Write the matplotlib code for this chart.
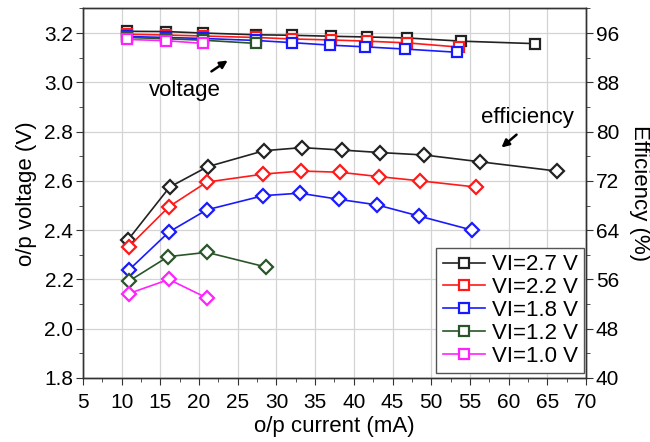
import numpy as np
import matplotlib.pyplot as plt
from matplotlib.ticker import MultipleLocator

plt.rcParams['font.family'] = ['Liberation Sans', 'DejaVu Sans']

# ---- output voltage vs current (square markers) ----
vin_labels = ["VI=2.7 V", "VI=2.2 V", "VI=1.8 V", "VI=1.2 V", "VI=1.0 V"]
colors = ['#222222', '#ff1a1a', '#1a1aff', '#2a552a', '#ff22ff']

v_cur_27 = [10.7, 15.7, 20.5, 27.3, 32.0, 37.0, 41.7, 46.9, 53.9, 63.4]
v_out_27 = [3.207, 3.206, 3.200, 3.193, 3.191, 3.187, 3.184, 3.180, 3.167, 3.157]
v_cur_22 = [10.7, 15.7, 20.5, 27.3, 32.0, 37.0, 41.7, 46.9, 53.6]
v_out_22 = [3.195, 3.192, 3.188, 3.182, 3.176, 3.172, 3.167, 3.160, 3.143]
v_cur_18 = [10.7, 15.7, 20.5, 27.3, 32.0, 36.9, 41.4, 46.6, 53.3]
v_out_18 = [3.186, 3.182, 3.178, 3.170, 3.161, 3.151, 3.144, 3.135, 3.122]
v_cur_12 = [10.7, 15.7, 20.5, 27.3]
v_out_12 = [3.182, 3.177, 3.171, 3.158]
v_cur_10 = [10.7, 15.7, 20.5]
v_out_10 = [3.174, 3.169, 3.158]

# ---- efficiency vs current (diamond markers) ----
e_cur_27 = [10.8, 16.2, 21.1, 28.4, 33.3, 38.5, 43.4, 49.1, 56.3, 66.2]
e_val_27 = [62.4, 71.0, 74.3, 76.9, 77.4, 77.0, 76.6, 76.2, 75.1, 73.6]
e_cur_22 = [10.9, 16.1, 21.0, 28.3, 33.2, 38.2, 43.2, 48.6, 55.8]
e_val_22 = [61.3, 67.8, 71.8, 73.1, 73.6, 73.4, 72.7, 72.0, 71.0]
e_cur_18 = [10.9, 16.1, 21.0, 28.3, 33.0, 38.1, 43.0, 48.4, 55.3]
e_val_18 = [57.5, 63.7, 67.3, 69.6, 70.0, 69.0, 68.1, 66.3, 64.0]
e_cur_12 = [10.9, 16.0, 21.0, 28.7]
e_val_12 = [55.7, 59.7, 60.4, 58.0]
e_cur_10 = [10.9, 16.1, 21.0]
e_val_10 = [53.7, 56.0, 53.0]

volt_sets = [(v_cur_27, v_out_27), (v_cur_22, v_out_22), (v_cur_18, v_out_18),
             (v_cur_12, v_out_12), (v_cur_10, v_out_10)]
eff_sets = [(e_cur_27, e_val_27), (e_cur_22, e_val_22), (e_cur_18, e_val_18),
            (e_cur_12, e_val_12), (e_cur_10, e_val_10)]

fig = plt.figure(figsize=(6.5, 4.42), dpi=100)
ax = fig.add_axes([0.1277, 0.1448, 0.7738, 0.8362])
ax2 = ax.twinx()

fs_tick = 15
fs_lab = 16

handles = []
for (x, y), c, lab in zip(volt_sets, colors, vin_labels):
    h, = ax.plot(x, y, color=c, lw=1.2, marker='s', ms=6.5, mfc='white',
                 mec=c, mew=1.6, label=lab)
    handles.append(h)

for (x, y), c in zip(eff_sets, colors):
    ax2.plot(x, y, color=c, lw=1.2, marker='D', ms=7.5, mfc='white',
             mec=c, mew=1.6)

ax.set_xlim(5, 70)
ax.set_ylim(1.8, 3.3)
ax2.set_ylim(40, 100)

ax.xaxis.set_major_locator(MultipleLocator(5))
ax.xaxis.set_minor_locator(MultipleLocator(2.5))
ax.set_yticks(np.arange(1.8, 3.21, 0.2))
ax.yaxis.set_minor_locator(MultipleLocator(0.1))
ax2.set_yticks(np.arange(40, 97, 8))
ax2.yaxis.set_minor_locator(MultipleLocator(4))
ax.yaxis.set_major_formatter(plt.FormatStrFormatter('%.1f'))

ax.grid(True, which='major', color='#d4d4d4', lw=0.9)
ax.set_axisbelow(True)

for a in (ax, ax2):
    a.tick_params(which='both', direction='out', labelsize=fs_tick,
                  color='#333333', pad=2)
    a.tick_params(which='major', length=5)
    a.tick_params(which='minor', length=3)
    for s in a.spines.values():
        s.set_color('#333333')
        s.set_linewidth(1.0)
ax.tick_params(axis='x', which='both', top=False, pad=6)

ax.set_xlabel("o/p current (mA)", fontsize=fs_lab, labelpad=3)
ax.set_ylabel("o/p voltage (V)", fontsize=fs_lab, labelpad=5)
ax2.set_ylabel("Efficiency (%)", fontsize=fs_lab, rotation=-90, labelpad=22)

# annotations
ax.annotate("", xy=(24.0, 3.095), xytext=(21.3, 3.038),
            arrowprops=dict(arrowstyle='-|>', color='black', lw=1.8,
                            mutation_scale=11))
ax.text(18.2, 2.965, "voltage", fontsize=fs_lab, ha='center', va='center')
ax.annotate("", xy=(58.8, 2.728), xytext=(61.3, 2.795),
            arrowprops=dict(arrowstyle='-|>', color='black', lw=1.8,
                            mutation_scale=11))
ax.text(62.4, 2.858, "efficiency", fontsize=fs_lab, ha='center', va='center')

leg = ax2.legend(handles=handles, loc='lower right',
                 bbox_to_anchor=(0.997, 0.013), borderaxespad=0,
                 fontsize=16, frameon=True, fancybox=False,
                 edgecolor='#555555', framealpha=1, labelspacing=0.08,
                 handlelength=1.9, handletextpad=0.3, borderpad=0.3)
leg.get_frame().set_linewidth(1.0)

fig.savefig("out.png", dpi=100)
